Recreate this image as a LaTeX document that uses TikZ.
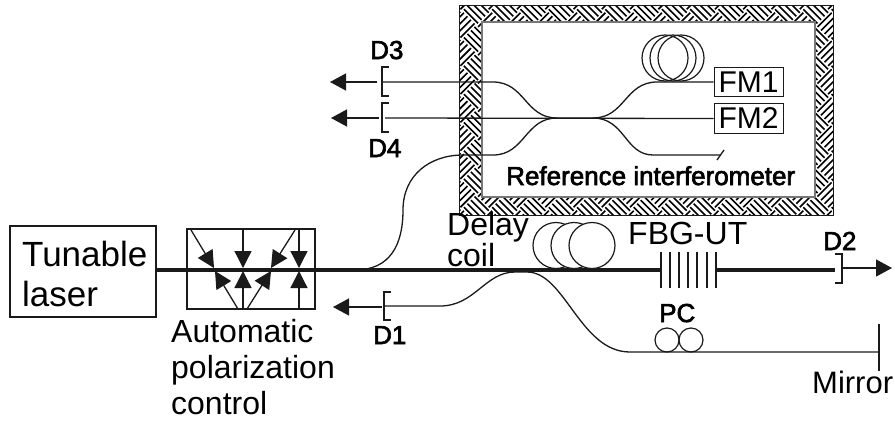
\documentclass[tikz,border=0pt]{standalone}
\usepackage{fontspec}
\setmainfont{Liberation Sans}
\newfontfamily\semifont[FakeBold=2.5]{Liberation Sans}
\usetikzlibrary{arrows.meta,positioning}
\definecolor{cline}{HTML}{1A1A1A}
\definecolor{cframe}{HTML}{777777}

\begin{document}
\begin{tikzpicture}[x=1pt,y=-1pt,
  fiber/.style={draw=cline, line width=1.3pt},
  mainfiber/.style={draw=cline, line width=3.2pt},
  weave/.style={draw=black, line width=1.6pt},
  bracket/.style={draw=cline, line width=1.3pt},
  outarrow/.style={draw=cline, line width=1.3pt, -{Triangle[length=16pt,width=17pt]}},
  paddle/.style={draw=cline, line width=1.3pt, -{Triangle[length=17pt,width=17pt]}},
  devbox/.style={draw=cline, line width=1.2pt, inner sep=0pt},
  mirrorbox/.style={draw=cline, line width=0.9pt, inner sep=0pt, minimum width=69pt, minimum height=29.5pt,
                    text width=60pt, align=left, font=\fontsize{30}{32}\selectfont},
  ring/.style={circle, draw=cline, line width=1.2pt, inner sep=0pt},
  lab/.style={inner sep=0pt, anchor=base west, align=left, font=\fontsize{32}{36}\selectfont},
  tag/.style={inner sep=0pt, anchor=base west, font=\fontsize{26}{28}\semifont}
]
  \useasboundingbox (0,0) rectangle (895,424);

  % frame round the interferometer
  \begin{scope}
    \clip (459,5) rectangle (833,215);
    \begin{scope}[shift={(646,110)},rotate=45]
      \foreach \i in {-11,...,10} \foreach \j in {-11,...,10} {
        \pgfmathtruncatemacro{\odd}{mod(\i+\j+22,2)}
        \foreach \k in {2.5,7.5,12.5,17.5} {
          \ifnum\odd=0
            \draw[weave] (\i*20,\j*20+\k) -- ++(20,0);
          \else
            \draw[weave] (\i*20+\k,\j*20) -- ++(0,20);
          \fi
        }
      }
    \end{scope}
  \end{scope}
  \draw[draw=cline, line width=1pt] (459,5) rectangle (833,215);
  \draw[draw=cframe, line width=1.4pt, fill=white] (482,22) rectangle (815,197);

  % devices
  \node[devbox, minimum width=146pt, minimum height=91pt] (laser) at (83,271.5) {};
  \node[devbox, minimum width=128pt, minimum height=80pt] (apc) at (251,269) {};
  \node[mirrorbox] (fm1) at (748.5,82) {FM1};
  \node[mirrorbox] (fm2) at (748.5,118.5) {FM2};

  % detectors
  \coordinate (d3) at (382,82);
  \coordinate (d4) at (382,118);
  \coordinate (d1) at (384,306);
  \coordinate (d2) at (842,268);
  \coordinate (t3) at (330,82);
  \coordinate (t4) at (331,118);
  \coordinate (t1) at (333,307);
  \coordinate (t2) at (892,268);
  \draw[bracket] (d3) ++(7,-15) -- ++(-7,0) -- ++(0,29) -- ++(7,0);
  \draw[bracket] (d4) ++(7,-15) -- ++(-7,0) -- ++(0,29) -- ++(7,0);
  \draw[bracket] (d1) ++(7,-14) -- ++(-7,0) -- ++(0,28) -- ++(7,0);
  \draw[bracket] (d2) ++(-7,-14) -- ++(7,0) -- ++(0,29) -- ++(-7,0);
  \draw[outarrow] (377,82) -- (t3);
  \draw[outarrow] (379,118) -- (t4);
  \draw[outarrow] (382,307) -- (t1);
  \draw[outarrow] (d2) -- (t2);

  % fibers in the interferometer
  \coordinate (cl) at (557,118);
  \coordinate (cr) at (593,118);
  \coordinate (dump) at (720,155);
  \draw[fiber] (d3) -- (493,82) .. controls (525,82) and (525,118) .. (cl) -- (cr)
    .. controls (625,118) and (625,82) .. (657,82) -- (fm1.west);
  \draw[fiber] (385,118) -- (fm2.west);
  \draw[fiber] (355,270) .. controls (390,270) and (403,245) .. (403,210)
    .. controls (403,175) and (430,155) .. (463,155) -- (493,155)
    .. controls (525,155) and (525,118) .. (cl);
  \draw[fiber] (cr) .. controls (625,118) and (625,155) .. (653,155) -- (dump);
  \draw[fiber] (717,160) -- (724,150);
  \node[ring, minimum size=46pt] (r1) at (665,58) {};
  \node[ring, minimum size=46pt] (r2) at (673,58) {};
  \node[ring, minimum size=46pt] (r3) at (681,58) {};

  % main line
  \coordinate (grl) at (661,270);
  \coordinate (grr) at (717,270);
  \draw[mainfiber] (laser.east |- 0,270) -- (grl);
  \draw[mainfiber] (grr) -- (835,270);
  \foreach \x in {661,670,679,688,697,707,716}
    \draw[fiber] (\x,252) -- (\x,288);
  \node[ring, fill=white, minimum size=46pt] (c1) at (556,245.5) {};
  \node[ring, fill=white, minimum size=46pt] (c2) at (574,245.5) {};
  \node[ring, fill=white, minimum size=46pt] (c3) at (592,245.5) {};

  % polarization control
  \foreach \n/\tx/\wx in {1/191/214,2/243/243,3/295/271,4/299/299} {
    \coordinate (u\n) at (\tx,230);
    \coordinate (v\n) at (\wx,268);
    \draw[paddle] (u\n) -- (v\n);
  }
  \foreach \n/\tx/\wx in {1/238/215,2/243/243,3/247/271,4/299/299} {
    \coordinate (p\n) at (\tx,309);
    \coordinate (q\n) at (\wx,271);
    \draw[paddle] (p\n) -- (q\n);
  }

  % lower arm
  \coordinate (mir) at (879,352);
  \draw[fiber] (d1) -- (440,306) .. controls (475,306) and (485,272) .. (515,272) -- (527,272)
    .. controls (565,272) and (580,352) .. (630,352) -- (mir);
  \draw[fiber] (879,324) -- (879,371);
  \node[ring, minimum size=24pt] (pc1) at (667,340) {};
  \node[ring, minimum size=24pt] (pc2) at (691,340) {};

  % labels
  \node[lab, font=\fontsize{35}{40}\selectfont] (laserlab) at (22,306) {Tunable\\laser};
  \node[lab] (apclab) at (171,414) {Automatic\\polarization\\control};
  \node[lab, font=\fontsize{32}{25}\selectfont] (delay) at (447,266) {Delay\\coil};
  \node[lab] (fbg) at (628,244) {FBG-UT};
  \node[lab, font=\fontsize{31}{34}\selectfont] (mirror) at (812,393) {Mirror};
  \node[tag] (l3) at (370,59) {D3};
  \node[tag] (l4) at (368,157) {D4};
  \node[tag] (l1) at (373,344) {D1};
  \node[tag] (l2) at (823,250) {D2};
  \node[tag] (pclab) at (659,322) {PC};
  \node[tag] (reflab) at (506,185) {Reference interferometer};
\end{tikzpicture}
\end{document}
